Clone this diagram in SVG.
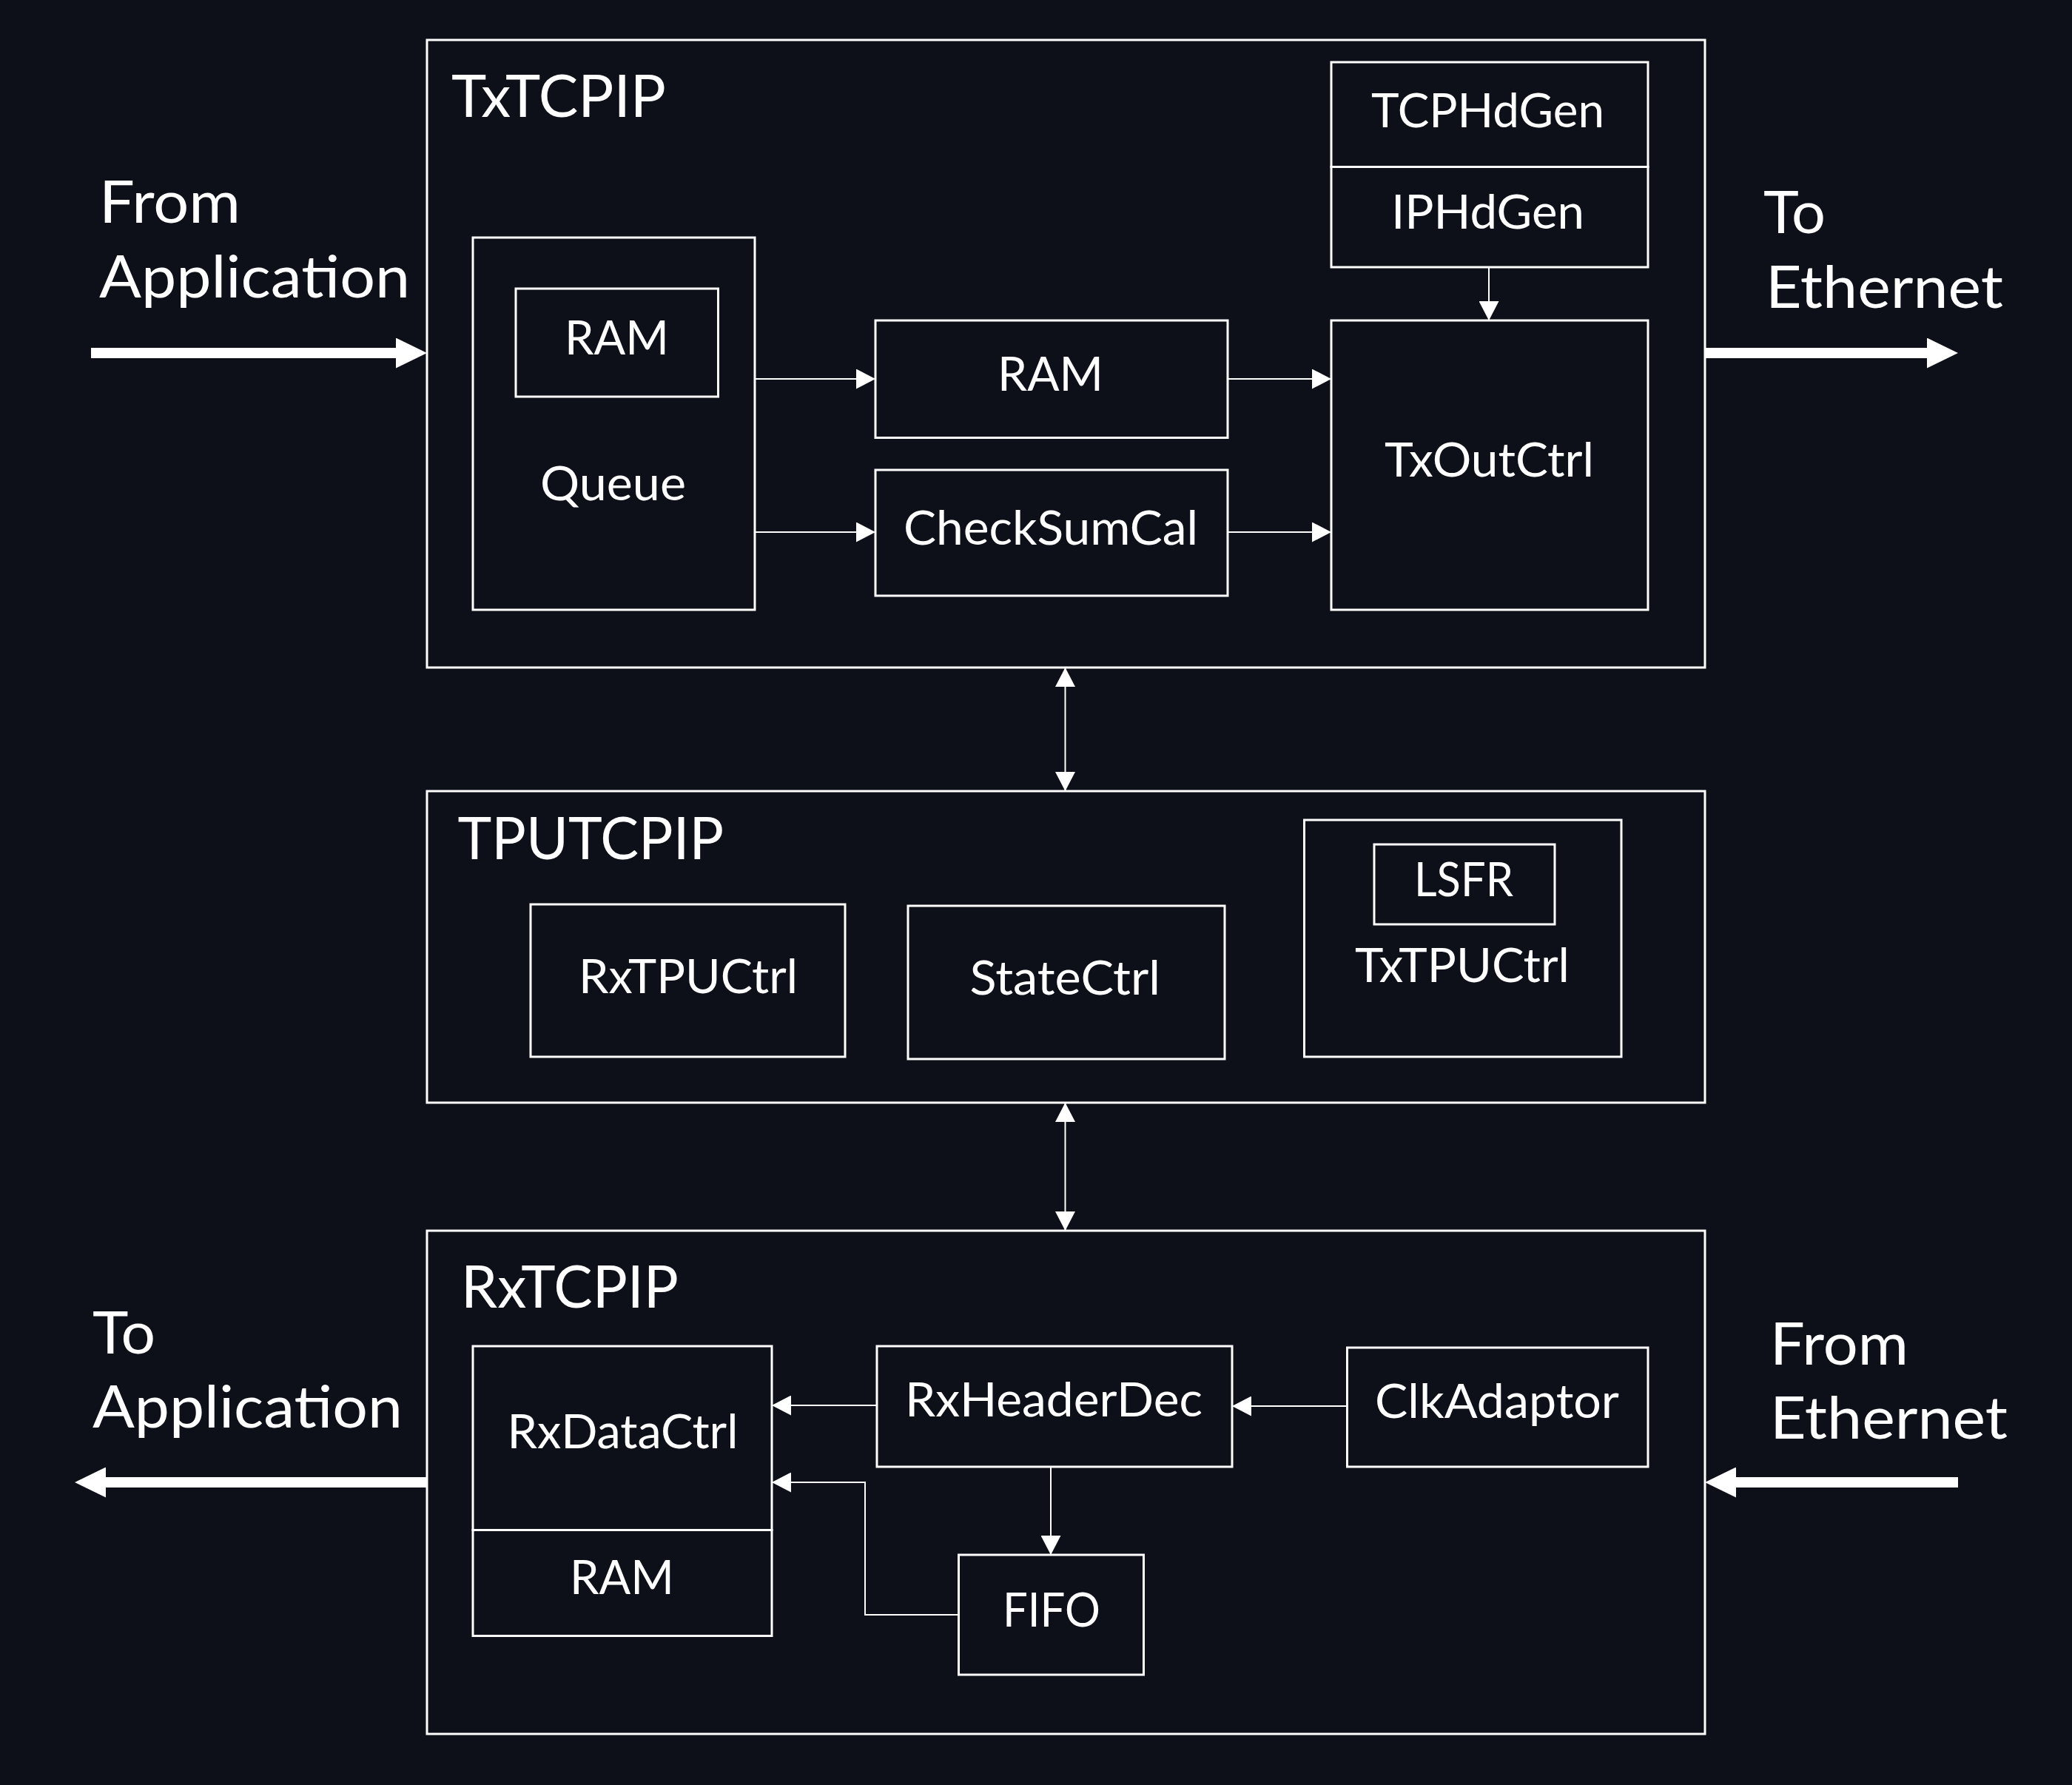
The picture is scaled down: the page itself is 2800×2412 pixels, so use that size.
<svg xmlns="http://www.w3.org/2000/svg" width="2800" height="2412" viewBox="0 0 2800 2412">
<style>
.box{fill:none;stroke:#ffffff;stroke-width:3}
.con{fill:none;stroke:#ffffff;stroke-width:2}
.thick{fill:none;stroke:#ffffff;stroke-width:14}
.big{font-family:Lato,"Liberation Sans",sans-serif;font-size:80px;fill:#ffffff}
.lbl{font-family:Lato,"Liberation Sans",sans-serif;font-size:63px;fill:#ffffff}
</style>
<defs>
<marker id="ah" markerUnits="userSpaceOnUse" markerWidth="26" markerHeight="27" viewBox="0 0 26 27" refX="26" refY="13.5" orient="auto-start-reverse">
<path d="M0,0 L26,13.5 L0,27 z" fill="#ffffff"/>
</marker>
<marker id="bh" markerUnits="userSpaceOnUse" markerWidth="42" markerHeight="41" viewBox="0 0 42 41" refX="0" refY="20.5" orient="auto">
<path d="M0,0 L42,20.5 L0,41 z" fill="#ffffff"/>
</marker>
</defs>
<rect x="0" y="0" width="2800" height="2412" fill="#0d1018"/>

<g id="txtcpip">
<rect class="box" x="577" y="54" width="1727" height="848"/>
<text class="big" x="610" y="158" textLength="290" lengthAdjust="spacingAndGlyphs">TxTCPIP</text>
</g>
<g id="queue">
<rect class="box" x="639" y="321" width="381" height="503"/>
<text class="lbl" x="730" y="675.5" textLength="197" lengthAdjust="spacingAndGlyphs">Queue</text>
</g>
<g id="queue-ram">
<rect class="box" x="697" y="390" width="273.5" height="146"/>
<text class="lbl" x="763" y="478.5" textLength="141" lengthAdjust="spacingAndGlyphs">RAM</text>
</g>
<g id="tx-ram">
<rect class="box" x="1183" y="433" width="476" height="158.5"/>
<text class="lbl" x="1348" y="528" textLength="143" lengthAdjust="spacingAndGlyphs">RAM</text>
</g>
<g id="checksumcal">
<rect class="box" x="1183" y="635" width="476" height="170"/>
<text class="lbl" x="1221" y="736" textLength="398" lengthAdjust="spacingAndGlyphs">CheckSumCal</text>
</g>
<g id="tcphdgen">
<rect class="box" x="1799" y="84" width="428" height="141.5"/>
<text class="lbl" x="1853" y="171.5" textLength="315" lengthAdjust="spacingAndGlyphs">TCPHdGen</text>
</g>
<g id="iphdgen">
<rect class="box" x="1799" y="225.5" width="428" height="135.5"/>
<text class="lbl" x="1880" y="309" textLength="261" lengthAdjust="spacingAndGlyphs">IPHdGen</text>
</g>
<g id="txoutctrl">
<rect class="box" x="1799" y="433" width="428" height="391"/>
<text class="lbl" x="1871" y="643.5" textLength="283" lengthAdjust="spacingAndGlyphs">TxOutCtrl</text>
</g>

<g id="tputcpip">
<rect class="box" x="577" y="1069" width="1727" height="421"/>
<text class="big" x="618.5" y="1160.7" textLength="359.5" lengthAdjust="spacingAndGlyphs">TPUTCPIP</text>
</g>
<g id="rxtpuctrl">
<rect class="box" x="717" y="1222" width="425" height="206"/>
<text class="lbl" x="782" y="1342" textLength="296" lengthAdjust="spacingAndGlyphs">RxTPUCtrl</text>
</g>
<g id="statectrl">
<rect class="box" x="1227" y="1224" width="428" height="207"/>
<text class="lbl" x="1310.5" y="1344" textLength="257.5" lengthAdjust="spacingAndGlyphs">StateCtrl</text>
</g>
<g id="txtpuctrl">
<rect class="box" x="1762.5" y="1108" width="428.5" height="320"/>
<text class="lbl" x="1831" y="1327" textLength="290" lengthAdjust="spacingAndGlyphs">TxTPUCtrl</text>
</g>
<g id="lsfr">
<rect class="box" x="1857" y="1141" width="244" height="108"/>
<text class="lbl" x="1911" y="1211" textLength="134" lengthAdjust="spacingAndGlyphs">LSFR</text>
</g>

<g id="rxtcpip">
<rect class="box" x="577" y="1663" width="1727" height="680"/>
<text class="big" x="623" y="1767" textLength="294" lengthAdjust="spacingAndGlyphs">RxTCPIP</text>
</g>
<g id="rxdatactrl">
<rect class="box" x="639" y="1819" width="404" height="248.5"/>
<text class="lbl" x="685.5" y="1957" textLength="312" lengthAdjust="spacingAndGlyphs">RxDataCtrl</text>
</g>
<g id="rx-ram">
<rect class="box" x="639" y="2067.5" width="404" height="143"/>
<text class="lbl" x="770" y="2154" textLength="141" lengthAdjust="spacingAndGlyphs">RAM</text>
</g>
<g id="rxheaderdec">
<rect class="box" x="1185" y="1819" width="480" height="163"/>
<text class="lbl" x="1223" y="1914" textLength="402" lengthAdjust="spacingAndGlyphs">RxHeaderDec</text>
</g>
<g id="clkadaptor">
<rect class="box" x="1820.5" y="1821" width="406.5" height="161"/>
<text class="lbl" x="1858" y="1916" textLength="330" lengthAdjust="spacingAndGlyphs">ClkAdaptor</text>
</g>
<g id="fifo">
<rect class="box" x="1295.5" y="2101" width="250" height="162"/>
<text class="lbl" x="1355" y="2198" textLength="132" lengthAdjust="spacingAndGlyphs">FIFO</text>
</g>

<g id="from-application">
<text class="big" x="134" y="301" textLength="191" lengthAdjust="spacingAndGlyphs">From</text>
<text class="big" x="134" y="402" textLength="420" lengthAdjust="spacingAndGlyphs">Application</text>
</g>
<g id="to-ethernet">
<text class="big" x="2383" y="315" textLength="84" lengthAdjust="spacingAndGlyphs">To</text>
<text class="big" x="2386" y="416" textLength="321" lengthAdjust="spacingAndGlyphs">Ethernet</text>
</g>
<g id="to-application">
<text class="big" x="125" y="1829" textLength="85" lengthAdjust="spacingAndGlyphs">To</text>
<text class="big" x="125" y="1929" textLength="419" lengthAdjust="spacingAndGlyphs">Application</text>
</g>
<g id="from-ethernet">
<text class="big" x="2392" y="1844" textLength="187" lengthAdjust="spacingAndGlyphs">From</text>
<text class="big" x="2392" y="1944" textLength="321" lengthAdjust="spacingAndGlyphs">Ethernet</text>
</g>

<g id="connectors">
<line class="con" x1="1020" y1="512" x2="1183" y2="512" marker-end="url(#ah)"/>
<line class="con" x1="1020" y1="719" x2="1183" y2="719" marker-end="url(#ah)"/>
<line class="con" x1="1659" y1="512" x2="1799" y2="512" marker-end="url(#ah)"/>
<line class="con" x1="1659" y1="719" x2="1799" y2="719" marker-end="url(#ah)"/>
<line class="con" x1="2012" y1="361" x2="2012" y2="433" marker-end="url(#ah)"/>
<line class="con" x1="1439.5" y1="902" x2="1439.5" y2="1069" marker-start="url(#ah)" marker-end="url(#ah)"/>
<line class="con" x1="1439.5" y1="1490" x2="1439.5" y2="1663" marker-start="url(#ah)" marker-end="url(#ah)"/>
<line class="con" x1="1185" y1="1899" x2="1043" y2="1899" marker-end="url(#ah)"/>
<line class="con" x1="1820" y1="1900" x2="1665" y2="1900" marker-end="url(#ah)"/>
<line class="con" x1="1420" y1="1982" x2="1420" y2="2101" marker-end="url(#ah)"/>
<polyline class="con" points="1295,2182 1169,2182 1169,2003 1043,2003" marker-end="url(#ah)"/>
<line class="thick" x1="123" y1="477" x2="535" y2="477" marker-end="url(#bh)"/>
<line class="thick" x1="2304" y1="477" x2="2604" y2="477" marker-end="url(#bh)"/>
<line class="thick" x1="577" y1="2003" x2="143" y2="2003" marker-end="url(#bh)"/>
<line class="thick" x1="2646" y1="2003" x2="2346" y2="2003" marker-end="url(#bh)"/>
</g>
</svg>
